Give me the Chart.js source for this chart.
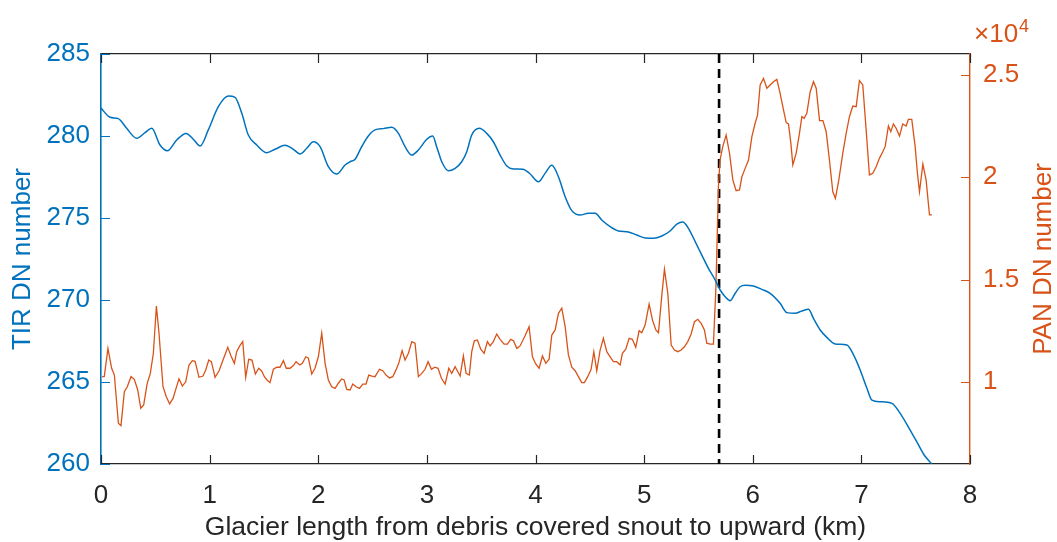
<!DOCTYPE html>
<html>
<head>
<meta charset="utf-8">
<script src="https://cdn.jsdelivr.net/npm/chart.js@4/dist/chart.umd.min.js"></script>
<style>
  html, body { margin: 0; padding: 0; background: #fff; }
  #wrap { width: 1057px; height: 542px; }
</style>
</head>
<body>
<div id="wrap"><canvas id="canvas" width="1057" height="542"></canvas></div>
<script>
// TIR profile (left axis)
const tirKm = [0,0.083,0.159,0.236,0.329,0.405,0.467,0.543,0.611,0.697,
  0.783,0.856,0.912,0.988,1.08,1.172,1.234,1.296,1.356,1.434,
  1.526,1.602,1.694,1.771,1.832,1.894,1.955,2.017,2.093,2.17,
  2.247,2.293,2.339,2.4,2.461,2.523,2.6,2.677,2.738,2.799,
  2.861,2.922,2.999,3.054,3.09,3.137,3.198,3.26,3.321,3.367,
  3.413,3.483,3.551,3.612,3.674,3.736,3.797,3.883,3.944,4.027,
  4.088,4.15,4.211,4.273,4.334,4.411,4.487,4.549,4.61,4.687,
  4.763,4.855,4.933,5.009,5.086,5.163,5.239,5.301,5.356,5.408,
  5.47,5.531,5.592,5.654,5.7,5.746,5.792,5.838,5.884,5.93,
  6.007,6.084,6.16,6.252,6.314,6.39,6.452,6.513,6.559,6.621,
  6.682,6.759,6.867,6.928,6.989,7.051,7.097,7.173,7.281,7.357,
  7.449,7.526,7.578,7.649];
const tirDN = [281.7,281.14,281.06,280.47,279.86,280.2,280.47,279.45,279.1,279.76,
  280.16,279.76,279.39,280.37,281.79,282.44,282.36,281.38,280.06,279.45,
  278.98,279.19,279.43,279.19,278.9,279.25,279.65,279.35,278.13,277.68,
  278.23,278.43,278.58,279.35,280.0,280.37,280.45,280.53,280.16,279.35,
  278.84,279.15,279.8,280.0,279.35,278.43,277.88,278.03,278.43,279.04,
  280.06,280.47,280.16,279.65,278.84,278.17,277.99,277.97,277.73,277.21,
  277.72,278.21,277.52,276.3,275.45,275.18,275.29,275.29,274.88,274.47,
  274.21,274.15,273.96,273.78,273.76,273.9,274.21,274.63,274.76,274.37,
  273.56,272.74,271.93,271.22,270.61,270.2,269.96,270.41,270.81,270.9,
  270.85,270.65,270.41,269.8,269.23,269.19,269.33,269.43,268.88,268.17,
  267.72,267.32,267.26,266.65,265.73,264.62,263.9,263.8,263.7,263.09,
  262.07,261.16,260.55,260.0];

// PAN profile (right axis)
const panKm = [0.01,0.03,0.064,0.098,0.123,0.16,0.184,0.215,0.242,0.276,
  0.307,0.338,0.366,0.393,0.424,0.454,0.482,0.51,0.534,0.571,
  0.601,0.632,0.663,0.691,0.718,0.749,0.78,0.81,0.841,0.866,
  0.902,0.939,0.964,0.992,1.016,1.05,1.087,1.126,1.167,1.197,
  1.228,1.249,1.277,1.305,1.332,1.36,1.39,1.421,1.452,1.479,
  1.504,1.528,1.556,1.587,1.618,1.648,1.679,1.706,1.74,1.771,
  1.796,1.83,1.854,1.885,1.909,1.94,1.97,2.001,2.032,2.063,
  2.093,2.124,2.155,2.185,2.216,2.238,2.262,2.293,2.318,2.348,
  2.379,2.41,2.44,2.465,2.495,2.523,2.563,2.594,2.624,2.655,
  2.686,2.716,2.741,2.772,2.799,2.83,2.861,2.891,2.922,2.953,
  2.983,3.011,3.042,3.073,3.103,3.134,3.168,3.202,3.229,3.26,
  3.285,3.306,3.336,3.361,3.391,3.413,3.437,3.465,3.496,3.527,
  3.557,3.582,3.612,3.643,3.674,3.711,3.741,3.772,3.797,3.828,
  3.858,3.904,3.941,3.972,4.002,4.033,4.064,4.095,4.125,4.15,
  4.181,4.211,4.242,4.273,4.303,4.334,4.365,4.395,4.426,4.45,
  4.481,4.512,4.537,4.564,4.595,4.625,4.656,4.687,4.717,4.748,
  4.779,4.8,4.831,4.862,4.892,4.923,4.954,4.978,5.009,5.046,
  5.077,5.108,5.132,5.163,5.187,5.218,5.249,5.279,5.31,5.341,
  5.371,5.402,5.433,5.463,5.494,5.525,5.555,5.577,5.608,5.638,
  5.66,5.669,5.684,5.699,5.724,5.755,5.786,5.817,5.847,5.878,
  5.9,5.93,5.961,5.992,6.022,6.044,6.068,6.099,6.13,6.16,
  6.191,6.222,6.252,6.283,6.308,6.329,6.351,6.369,6.4,6.43,
  6.452,6.473,6.498,6.529,6.559,6.584,6.615,6.646,6.676,6.706,
  6.737,6.761,6.792,6.829,6.86,6.89,6.921,6.952,6.982,7.013,
  7.044,7.074,7.105,7.136,7.166,7.197,7.219,7.249,7.271,7.295,
  7.32,7.351,7.381,7.412,7.433,7.464,7.495,7.516,7.535,7.566,
  7.596,7.627,7.649];
const panDN = [10260,10260,11640,10670,10340,7990,7870,9530,9770,10260,
  10130,9610,8720,8880,9900,10420,11400,13710,12380,9770,
  9280,8930,9200,9690,10160,9800,10010,10830,11040,11010,
  10230,10290,10590,11070,10990,10230,10550,11110,11690,11270,
  10910,11480,11760,11970,10230,11110,11070,10390,10670,10540,
  10260,10100,9970,10620,10720,10720,11040,10670,10670,10800,
  10990,10830,10910,11230,11160,10390,10670,11230,12380,10910,
  10100,9770,9690,9940,10150,10100,9640,9610,9900,9770,
  9690,9900,9900,10340,10290,10260,10620,10550,10340,10200,
  10260,10590,10910,11530,11070,11400,11970,11890,10260,10420,
  10620,10990,10620,10720,10670,10180,9900,10670,10420,10750,
  10500,10290,11270,10420,10340,11480,12010,12050,11600,11400,
  11970,11760,11970,12340,12080,11850,11850,12080,12010,11640,
  11760,12260,12700,11230,10880,10670,11270,10910,11110,12290,
  12540,13350,13600,12700,11320,10720,10550,10260,9970,9970,
  10260,10620,11480,10550,11560,12130,11480,11230,10990,10990,
  10830,11400,11600,12130,12080,11690,12500,12400,12780,13800,
  13020,12540,12400,14240,15500,14330,11800,11560,11480,11560,
  11720,11970,12340,12940,13060,12860,12540,11890,11850,11850,
  14490,16280,19530,20830,21480,22050,21160,19850,19330,19370,
  20010,20420,20830,21970,22620,23020,24490,24810,24330,24490,
  24650,24760,24080,23270,22650,22590,21640,20590,21160,22130,
  22940,22860,23110,24160,24650,24330,22750,22750,22210,20830,
  19280,18960,19850,21160,22130,22940,23460,23430,24700,24490,
  22290,20100,20180,20500,20910,21230,21480,22490,22210,22590,
  22380,22000,22590,22490,22810,22810,21480,20180,19280,20630,
  19850,18150,18150];

// boundary marker (km) and axis ticks
const boundaryKm = 5.69;
const xTicks = [0, 1, 2, 3, 4, 5, 6, 7, 8];
const tirTicks = [260, 265, 270, 275, 280, 285];
const panTicks = [10000, 15000, 20000, 25000];

const blue = '#0072BD';
const orange = '#D95319';
const dark = '#262626';
const FONT = '"Liberation Sans", Arial, Helvetica, sans-serif';

Chart.defaults.font.family = FONT;
Chart.defaults.font.size = 26;

function toPoints(xs, ys) {
  return xs.map((x, i) => ({ x: x, y: ys[i] }));
}

// matlab style: ticks point into the plot box
const innerTicks = {
  id: 'innerTicks',
  afterDraw(chart) {
    const ctx = chart.ctx;
    const a = chart.chartArea;
    const len = 9;
    ctx.save();
    ctx.lineWidth = 1.2;
    ctx.strokeStyle = dark;
    ctx.beginPath();
    xTicks.forEach(v => {
      const px = Math.round(chart.scales.x.getPixelForValue(v)) + 0.5;
      ctx.moveTo(px, a.bottom); ctx.lineTo(px, a.bottom - len);
      ctx.moveTo(px, a.top); ctx.lineTo(px, a.top + len);
    });
    ctx.stroke();
    ctx.strokeStyle = blue;
    ctx.beginPath();
    tirTicks.forEach(v => {
      const py = Math.round(chart.scales.y.getPixelForValue(v)) + 0.5;
      ctx.moveTo(a.left, py); ctx.lineTo(a.left + len, py);
    });
    ctx.stroke();
    ctx.strokeStyle = orange;
    ctx.beginPath();
    panTicks.forEach(v => {
      const py = Math.round(chart.scales.y1.getPixelForValue(v)) + 0.5;
      ctx.moveTo(a.right, py); ctx.lineTo(a.right - len, py);
    });
    ctx.stroke();
    ctx.restore();
  }
};

// extra texts: right axis label (reads upward like MATLAB) and the x10^4 multiplier
const extraText = {
  id: 'extraText',
  afterDraw(chart) {
    const ctx = chart.ctx;
    const area = chart.chartArea;
    ctx.save();
    ctx.fillStyle = orange;
    ctx.font = '26px ' + FONT;
    ctx.textAlign = 'center';
    ctx.textBaseline = 'middle';
    ctx.translate(1044, (area.top + area.bottom) / 2);
    ctx.rotate(-Math.PI / 2);
    ctx.fillText('PAN DN number', 0, 0);
    ctx.restore();

    ctx.save();
    ctx.fillStyle = orange;
    ctx.textBaseline = 'alphabetic';
    ctx.textAlign = 'left';
    ctx.font = '26px ' + FONT;
    ctx.fillText('\u00d710', 974, 42);
    const w = ctx.measureText('\u00d710').width;
    ctx.font = '18px ' + FONT;
    ctx.fillText('4', 974 + w + 1, 32);
    ctx.restore();
  }
};

new Chart(document.getElementById('canvas'), {
  type: 'line',
  data: {
    datasets: [
      {
        label: 'TIR',
        data: toPoints(tirKm, tirDN),
        yAxisID: 'y',
        borderColor: blue,
        borderWidth: 1.5,
        pointRadius: 0,
        cubicInterpolationMode: 'monotone',
        fill: false
      },
      {
        label: 'PAN',
        data: toPoints(panKm, panDN),
        yAxisID: 'y1',
        borderColor: orange,
        borderWidth: 1.3,
        pointRadius: 0,
        tension: 0,
        fill: false
      },
      {
        label: 'boundary',
        data: [{ x: boundaryKm, y: 285 }, { x: boundaryKm, y: 260 }],
        yAxisID: 'y',
        borderColor: '#000',
        borderWidth: 2.6,
        borderDash: [9, 6],
        pointRadius: 0,
        fill: false
      }
    ]
  },
  options: {
    responsive: false,
    animation: false,
    layout: { padding: { top: 54, left: 0, right: 0, bottom: 0 } },
    plugins: { legend: { display: false }, tooltip: { enabled: false } },
    scales: {
      x: {
        type: 'linear',
        position: 'bottom',
        min: 0,
        max: 8,
        afterBuildTicks: s => { s.ticks = xTicks.map(v => ({ value: v })); },
        grid: { drawOnChartArea: false, drawTicks: false },
        border: { color: dark, width: 1.3 },
        ticks: { color: dark, padding: 16, maxRotation: 0, autoSkip: false },
        title: {
          display: true,
          text: 'Glacier length from debris covered snout to upward (km)',
          color: dark,
          font: { size: 26.5, lineHeight: 1 },
          padding: { top: 0, bottom: 1 }
        },
        afterFit: s => { s.height = 78; }
      },
      x2: {
        type: 'linear',
        position: 'top',
        min: 0,
        max: 8,
        grid: { drawOnChartArea: false, drawTicks: false },
        border: { color: dark, width: 1.3 },
        ticks: { display: false },
        afterFit: s => { s.height = 0; }
      },
      y: {
        type: 'linear',
        position: 'left',
        min: 260,
        max: 285,
        afterBuildTicks: s => { s.ticks = tirTicks.map(v => ({ value: v })); },
        grid: { drawOnChartArea: false, drawTicks: false },
        border: { color: blue, width: 1.6 },
        ticks: { color: blue, padding: 11 },
        title: {
          display: true,
          text: 'TIR DN number',
          color: blue,
          font: { size: 26, lineHeight: 1 },
          padding: { top: 10, bottom: 0 }
        },
        afterFit: s => { s.width = 101; }
      },
      y1: {
        type: 'linear',
        position: 'right',
        min: 6000,
        max: 26000,
        afterBuildTicks: s => { s.ticks = panTicks.map(v => ({ value: v })); },
        grid: { drawOnChartArea: false, drawTicks: false },
        border: { color: orange, width: 1.4 },
        ticks: { color: orange, padding: 13, callback: v => String(v / 10000) },
        afterFit: s => { s.width = 87; }
      }
    }
  },
  plugins: [innerTicks, extraText]
});
</script>
</body>
</html>
